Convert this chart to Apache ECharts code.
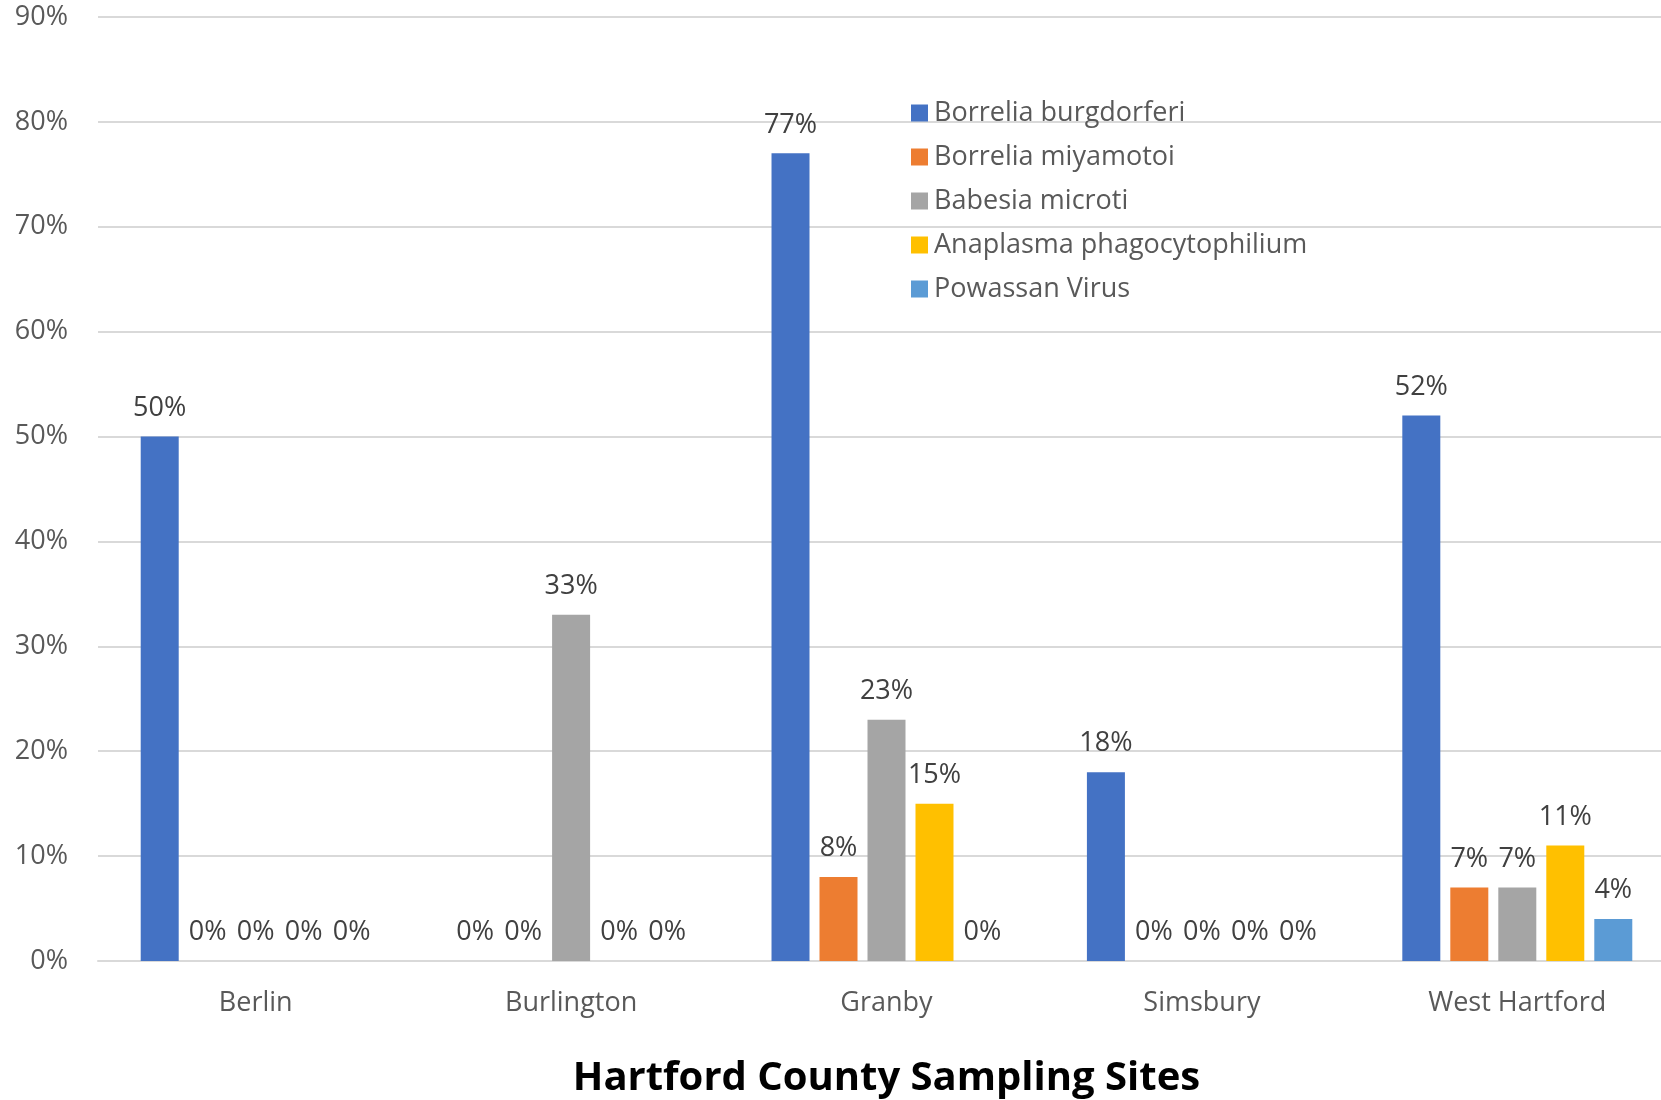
<!DOCTYPE html>
<html>
<head>
<meta charset="utf-8">
<script src="https://cdn.jsdelivr.net/npm/echarts@6/dist/echarts.min.js"></script>
<style>
html,body{margin:0;padding:0;background:#fff;}
#chart{width:1661px;height:1100px;}
</style>
</head>
<body>
<div id="chart"></div>
<script>
const categories = ['Berlin', 'Burlington', 'Granby', 'Simsbury', 'West Hartford'];
const seriesNames = ['Borrelia burgdorferi', 'Borrelia miyamotoi', 'Babesia microti', 'Anaplasma phagocytophilium', 'Powassan Virus'];
const borreliaBurgdorferi = [50, 0, 77, 18, 52];
const borreliaMiyamotoi = [0, 0, 8, 0, 7];
const babesiaMicroti = [0, 33, 23, 0, 7];
const anaplasma = [0, 0, 15, 0, 11];
const powassan = [0, 0, 0, 0, 4];
const colors = ['#4472C4', '#ED7D31', '#A5A5A5', '#FFC000', '#5B9BD5'];
const yTicks = [0, 10, 20, 30, 40, 50, 60, 70, 80, 90];
const xTitle = 'Hartford County Sampling Sites';

const seriesData = [borreliaBurgdorferi, borreliaMiyamotoi, babesiaMicroti, anaplasma, powassan];
const FONT = '"Open Sans", "Noto Sans", sans-serif';

const chart = echarts.init(document.getElementById('chart'), null, {renderer: 'canvas'});
chart.setOption({
  animation: false,
  backgroundColor: '#fff',
  color: colors,
  grid: {left: 98, top: 17, width: 1577, bottom: 139, containLabel: false, outerBoundsMode: 'none'},
  legend: {
    orient: 'vertical',
    left: 906,
    top: 93,
    itemWidth: 17,
    itemHeight: 17,
    itemGap: 14,
    icon: 'rect',
    data: seriesNames,
    textStyle: {fontFamily: FONT, fontSize: 27, color: '#595959', lineHeight: 30, padding: [0, 0, 0, 1]}
  },
  xAxis: {
    type: 'category',
    data: categories,
    name: xTitle,
    nameLocation: 'middle',
    nameGap: 98,
    nameTextStyle: {fontFamily: FONT, fontSize: 40, fontWeight: 'bold', color: '#000'},
    axisLine: {show: true, lineStyle: {color: '#D9D9D9', width: 2}},
    axisTick: {show: false},
    axisLabel: {fontFamily: FONT, fontSize: 27, color: '#595959', margin: 29}
  },
  yAxis: {
    type: 'value',
    min: yTicks[0],
    max: yTicks[yTicks.length - 1],
    interval: 10,
    axisLine: {show: false},
    axisTick: {show: false},
    splitLine: {lineStyle: {color: '#D9D9D9', width: 2}},
    axisLabel: {fontFamily: FONT, fontSize: 27, color: '#595959', margin: 30, formatter: '{value}%'}
  },
  series: seriesNames.map((name, i) => ({
    name: name,
    type: 'bar',
    data: seriesData[i],
    barWidth: 38,
    barGap: '26.3%',
    itemStyle: {color: colors[i]},
    label: {
      show: true,
      position: 'top',
      distance: 15,
      formatter: '{c}%',
      fontFamily: FONT,
      fontSize: 27,
      color: '#404040'
    }
  }))
});
</script>
</body>
</html>
